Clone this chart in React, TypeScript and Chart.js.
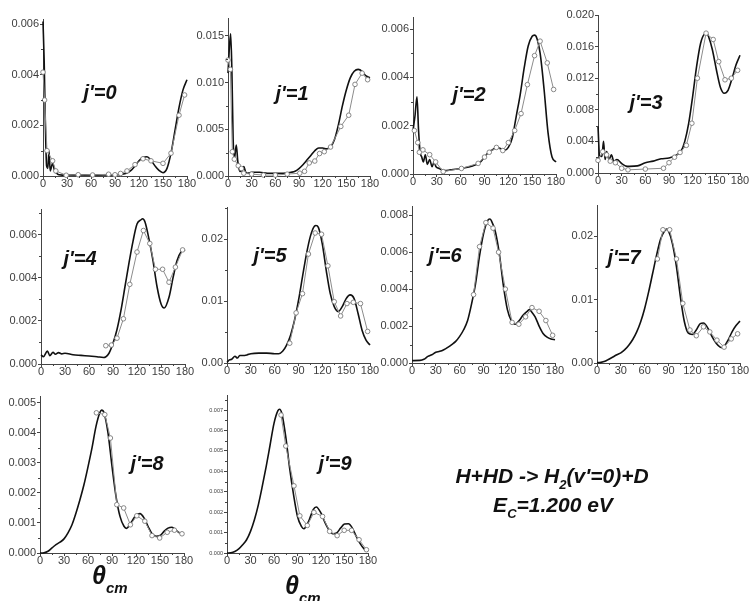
import React, { useEffect, useRef } from 'react';
import { Chart, registerables } from 'chart.js';

Chart.register(...registerables);
Chart.defaults.font.family = "'Liberation Sans', Arial, Helvetica, sans-serif";

// Differential cross sections, H + HD -> H2(v'=0, j') + D at Ec = 1.200 eV.
// Each series is a list of [theta_cm (deg), cross section] pairs.

// j' = 0
const j0Theory: [number, number][] = [
  [0, 0.0061], [1.5, 0.0045], [3, 0.002], [4.5, 0.0004], [6, 0.0003], [7.5, 0.001], [9, 0.0002],
  [12, 0.0005], [14.5, 0.0002], [17.5, 0.0001], [20, 0.00005], [30, 0.00003], [45, 0.00004],
  [60, 0.00003], [75, 0.00004], [90, 0.00004], [100, 0.00008], [105, 0.00012], [110, 0.00022],
  [115, 0.0004], [120, 0.0006], [125, 0.00074], [130, 0.00076], [135, 0.00062], [140, 0.0004],
  [145, 0.00022], [150, 0.00013], [155, 0.0003], [160, 0.0009], [165, 0.0018], [170, 0.0027],
  [175, 0.0034], [180, 0.0038],
];
const j0Measured: [number, number][] = [
  [0, 0.0041], [2, 0.003], [5, 0.001], [12, 0.0006], [16, 0.0002], [29, 0.00003], [44, 0.00005],
  [62, 0.00004], [82, 0.00007], [90, 0.00005], [97, 0.0001], [105, 0.0002], [115, 0.00045],
  [125, 0.00068], [135, 0.0006], [150, 0.0005], [160, 0.0009], [170, 0.0024], [177, 0.0032],
];

// j' = 1
const j1Theory: [number, number][] = [
  [0, 0.011], [2, 0.014], [3.4, 0.0152], [5, 0.011], [6.5, 0.004], [8, 0.0018], [10.5, 0.0033],
  [12.5, 0.0015], [15, 0.0005], [17.5, 0.0006], [20, 0.001], [22.5, 0.0004], [25, 0.0003],
  [30, 0.0004], [40, 0.0004], [50, 0.0003], [60, 0.0003], [70, 0.0003], [80, 0.0004], [85, 0.0005],
  [90, 0.0008], [95, 0.0012], [100, 0.0017], [105, 0.0022], [110, 0.0027], [115, 0.003],
  [120, 0.003], [125, 0.0029], [130, 0.0031], [135, 0.0039], [140, 0.0055], [145, 0.0075],
  [150, 0.0092], [155, 0.0105], [160, 0.0112], [165, 0.0114], [170, 0.0112], [175, 0.0107],
  [180, 0.0105],
];
const j1Measured: [number, number][] = [
  [0, 0.0124], [3, 0.0114], [5.5, 0.0026], [8, 0.0018], [13, 0.0011], [17, 0.0008], [20, 0.0003],
  [30, 0.0002], [45, 0.0001], [60, 0.0001], [75, 0.0002], [91, 0.0003], [97, 0.0005], [103, 0.0014],
  [110, 0.0016], [116, 0.0024], [122, 0.0026], [130, 0.0031], [143, 0.0053], [153, 0.0065],
  [161, 0.0098], [170, 0.011], [177, 0.0103],
];

// j' = 2
const j2Theory: [number, number][] = [
  [0, 0.0018], [2.5, 0.0024], [5, 0.0032], [7, 0.0018], [9, 0.0009], [11, 0.0007], [13, 0.0005],
  [15.5, 0.0008], [18, 0.0004], [21, 0.0006], [24, 0.0003], [26.5, 0.0005], [29, 0.0003],
  [33, 0.00023], [40, 0.00014], [47, 0.00017], [60, 0.00023], [75, 0.00033], [85, 0.0005],
  [90, 0.0007], [95, 0.0009], [100, 0.001], [105, 0.0011], [110, 0.00106], [115, 0.00097],
  [120, 0.0011], [125, 0.0015], [130, 0.0024], [135, 0.0033], [140, 0.0044], [145, 0.0053],
  [150, 0.0057], [153, 0.00575], [155, 0.0057], [160, 0.005], [165, 0.0035], [170, 0.0017],
  [175, 0.0007], [180, 0.0005],
];
const j2Measured: [number, number][] = [
  [1.7, 0.0018], [6, 0.0013], [8, 0.0009], [12.5, 0.001], [21, 0.0008], [28.5, 0.0005], [38, 0.0001],
  [61, 0.00023], [82, 0.00044], [90, 0.0007], [96, 0.0009], [105, 0.0011], [113, 0.00097],
  [120, 0.0013], [128, 0.0018], [136, 0.0025], [144, 0.0037], [153, 0.0049], [160, 0.0055],
  [169, 0.0046], [177, 0.0035],
];

// j' = 3
const j3Theory: [number, number][] = [
  [0, 0.0059], [2, 0.0022], [5, 0.0021], [7, 0.004], [9, 0.0017], [11, 0.0027], [14, 0.0017],
  [17, 0.0023], [20, 0.0015], [24, 0.0017], [30, 0.0012], [35, 0.0009], [40, 0.00084], [50, 0.0009],
  [60, 0.0013], [70, 0.0015], [80, 0.0018], [90, 0.0019], [100, 0.0023], [105, 0.0027], [110, 0.004],
  [115, 0.0063], [120, 0.0097], [125, 0.0135], [130, 0.0164], [135, 0.0176], [138, 0.0177],
  [140, 0.0173], [145, 0.0156], [150, 0.0131], [155, 0.0109], [160, 0.0101], [165, 0.0105],
  [170, 0.012], [175, 0.0137], [180, 0.0149],
];
const j3Measured: [number, number][] = [
  [0, 0.0016], [6, 0.0027], [11, 0.0023], [15.5, 0.0015], [22, 0.0013], [30, 0.0006], [38, 0.0004],
  [60, 0.0005], [83, 0.0006], [90, 0.0013], [97, 0.002], [104, 0.0026], [112, 0.0035], [119, 0.0063],
  [126, 0.012], [137, 0.0177], [146, 0.0169], [153, 0.0141], [161, 0.0118], [169, 0.012],
  [177, 0.013],
];

// j' = 4
const j4Theory: [number, number][] = [
  [0, 0.00042], [3, 0.00034], [8, 0.0006], [11, 0.00039], [15, 0.00054], [18, 0.00045],
  [22, 0.00053], [26, 0.00047], [30, 0.0005], [40, 0.00043], [50, 0.0004], [60, 0.00037],
  [70, 0.00034], [78, 0.0003], [85, 0.0005], [90, 0.00096], [95, 0.0016], [100, 0.0025],
  [105, 0.0036], [110, 0.0047], [115, 0.0057], [120, 0.0065], [125, 0.0067], [127, 0.00675],
  [130, 0.0066], [135, 0.0058], [140, 0.0048], [145, 0.0036], [150, 0.0028], [154, 0.0026],
  [160, 0.0031], [165, 0.004], [170, 0.0048], [175, 0.0052], [180, 0.0053],
];
const j4Measured: [number, number][] = [
  [81, 0.00085], [88, 0.00088], [95, 0.0012], [103, 0.0021], [111, 0.0037], [120, 0.0052],
  [128, 0.0062], [136, 0.0056], [143, 0.0044], [152, 0.0044], [160, 0.0038], [168, 0.0045],
  [177, 0.0053],
];

// j' = 5
const j5Theory: [number, number][] = [
  [0, 0.0001], [3, 0.0005], [6, 0.0006], [10, 0.0011], [13, 0.0008], [16, 0.0012], [20, 0.0012],
  [25, 0.0013], [30, 0.0015], [40, 0.0016], [50, 0.0016], [60, 0.0015], [65, 0.0015], [70, 0.0019],
  [75, 0.0029], [80, 0.0045], [85, 0.0069], [90, 0.0101], [95, 0.0139], [100, 0.0176], [105, 0.0205],
  [110, 0.0221], [112, 0.0222], [115, 0.0219], [120, 0.0192], [125, 0.0149], [130, 0.0112],
  [135, 0.0091], [140, 0.0083], [145, 0.0091], [150, 0.0104], [155, 0.011], [160, 0.0104],
  [165, 0.008], [170, 0.0053], [175, 0.0037], [180, 0.0029],
];
const j5Measured: [number, number][] = [
  [79, 0.0032], [87, 0.0081], [95, 0.0112], [102.5, 0.0176], [111, 0.021], [119, 0.0208],
  [127, 0.0157], [135, 0.0099], [143, 0.0076], [151, 0.0096], [159, 0.0098], [168, 0.0096],
  [177, 0.0051],
];

// j' = 6
const j6Theory: [number, number][] = [
  [0, 0.00013], [10, 0.00014], [15, 0.0002], [20, 0.00036], [25, 0.00045], [30, 0.00058],
  [35, 0.00063], [40, 0.00072], [45, 0.00085], [50, 0.001], [55, 0.00117], [60, 0.00144],
  [65, 0.0018], [70, 0.0023], [75, 0.0032], [80, 0.0043], [85, 0.0058], [90, 0.007], [95, 0.0077],
  [98, 0.0078], [100, 0.0077], [105, 0.0071], [110, 0.0059], [115, 0.0042], [120, 0.0029],
  [125, 0.0023], [130, 0.0021], [135, 0.0023], [140, 0.0026], [145, 0.0028], [148, 0.0029],
  [150, 0.0028], [155, 0.0025], [160, 0.002], [165, 0.0016], [170, 0.0014], [175, 0.0013],
  [180, 0.00126],
];
const j6Measured: [number, number][] = [
  [77.5, 0.0037], [85, 0.0063], [93, 0.0076], [102, 0.0073], [109, 0.006], [117.5, 0.004],
  [126, 0.0022], [134.5, 0.0021], [143, 0.0025], [151, 0.003], [160, 0.0028], [168.5, 0.0023],
  [177, 0.0015],
];

// j' = 7
const j7Theory: [number, number][] = [
  [0, 0.00005], [5, 0.0001], [10, 0.00026], [15, 0.0006], [20, 0.00095], [25, 0.0013], [30, 0.0016],
  [35, 0.0021], [40, 0.0028], [45, 0.0037], [50, 0.0049], [55, 0.0065], [60, 0.0086], [65, 0.0112],
  [70, 0.0141], [75, 0.017], [80, 0.0195], [85, 0.0208], [88, 0.0211], [90, 0.0208], [95, 0.0188],
  [100, 0.0152], [105, 0.0104], [110, 0.0065], [115, 0.0047], [120, 0.0045], [125, 0.0052],
  [130, 0.0062], [134, 0.0063], [140, 0.0054], [145, 0.0041], [150, 0.0031], [155, 0.0025],
  [158, 0.0024], [160, 0.0026], [165, 0.0036], [170, 0.0049], [175, 0.0059], [180, 0.0066],
];
const j7Measured: [number, number][] = [
  [76, 0.0164], [83, 0.021], [91.5, 0.021], [100, 0.0164], [108, 0.0094], [117, 0.0052],
  [125, 0.0043], [134, 0.0057], [142, 0.0049], [151, 0.0036], [160, 0.0025], [169, 0.0038],
  [177, 0.0046],
];

// j' = 8
const j8Theory: [number, number][] = [
  [0, 0], [5, 0.00001], [10, 0.00006], [15, 0.00017], [20, 0.00028], [25, 0.00036], [30, 0.00047],
  [35, 0.00067], [40, 0.00094], [45, 0.00133], [50, 0.00178], [55, 0.00228], [60, 0.00287],
  [65, 0.0035], [70, 0.00422], [75, 0.00469], [77, 0.00476], [80, 0.00467], [85, 0.004],
  [90, 0.00289], [95, 0.00189], [100, 0.00122], [105, 0.00089], [108, 0.00082], [110, 0.00086],
  [115, 0.00106], [120, 0.00126], [125, 0.00131], [130, 0.00117], [135, 0.00089], [140, 0.00064],
  [145, 0.00056], [150, 0.00058], [155, 0.00072], [160, 0.00083], [165, 0.00086], [170, 0.00076],
  [175, 0.00067], [180, 0.00067],
];
const j8Measured: [number, number][] = [
  [70.5, 0.00467], [81, 0.00461], [88, 0.00383], [96, 0.00161], [104.6, 0.0015], [113, 0.00094],
  [121, 0.00124], [131, 0.00106], [140, 0.00058], [149.6, 0.0005], [159, 0.00069], [168, 0.00076],
  [177.5, 0.00064],
];

// j' = 9
const j9Theory: [number, number][] = [
  [0, 0], [5, 0.00001], [10, 0.00007], [15, 0.0002], [20, 0.0004], [25, 0.00065], [30, 0.00106],
  [35, 0.00163], [40, 0.00236], [45, 0.00326], [50, 0.00423], [55, 0.00529], [60, 0.00635],
  [65, 0.00697], [67, 0.00704], [70, 0.00684], [75, 0.0057], [80, 0.00415], [85, 0.00285],
  [90, 0.00179], [95, 0.0013], [98, 0.00119], [100, 0.00125], [105, 0.00163], [110, 0.00212],
  [114, 0.00225], [120, 0.00195], [125, 0.0015], [130, 0.00114], [135, 0.00094], [140, 0.00098],
  [145, 0.00122], [150, 0.00142], [155, 0.00143], [160, 0.00122], [165, 0.00081], [170, 0.00046],
  [175, 0.0002], [180, 0.00008],
];
const j9Measured: [number, number][] = [
  [69, 0.00676], [75, 0.00524], [85.5, 0.00329], [93, 0.00182], [102.5, 0.00135], [111, 0.00199],
  [122, 0.00179], [131, 0.00106], [140.6, 0.00085], [149.6, 0.00111], [159, 0.00111],
  [168.6, 0.00065], [178, 0.00016],
];

// Axis ticks
const THETA_TICKS = [0, 30, 60, 90, 120, 150, 180];
const yTicks0 = [0, 0.002, 0.004, 0.006];
const yTicks1 = [0, 0.005, 0.01, 0.015];
const yTicks2 = [0, 0.002, 0.004, 0.006];
const yTicks3 = [0, 0.004, 0.008, 0.012, 0.016, 0.02];
const yTicks4 = [0, 0.002, 0.004, 0.006];
const yTicks5 = [0, 0.01, 0.02];
const yTicks6 = [0, 0.002, 0.004, 0.006, 0.008];
const yTicks7 = [0, 0.01, 0.02];
const yTicks8 = [0, 0.001, 0.002, 0.003, 0.004, 0.005];
const yTicks9 = [0, 0.001, 0.002, 0.003, 0.004, 0.005, 0.006, 0.007];
const yMaxima = [0.0062, 0.0169, 0.0065, 0.02, 0.0072, 0.0252, 0.0085, 0.0249, 0.00523, 0.00774];
const yDecimals = [3, 3, 3, 3, 3, 2, 3, 2, 3, 3];
const PANEL_NAMES = ["j'=0", "j'=1", "j'=2", "j'=3", "j'=4", "j'=5", "j'=6", "j'=7", "j'=8", "j'=9"];

const THEORY = [j0Theory, j1Theory, j2Theory, j3Theory, j4Theory, j5Theory, j6Theory, j7Theory, j8Theory, j9Theory];
const MEASURED = [j0Measured, j1Measured, j2Measured, j3Measured, j4Measured, j5Measured, j6Measured, j7Measured, j8Measured, j9Measured];
const Y_TICKS = [yTicks0, yTicks1, yTicks2, yTicks3, yTicks4, yTicks5, yTicks6, yTicks7, yTicks8, yTicks9];

// Layout: plot rectangles [left, top, right, bottom] in page pixels
const PLOT_BOXES = [
  [43, 19, 187, 176], [228, 18, 370, 176], [413, 17, 556, 174], [598, 15, 740, 173],
  [41, 209, 185, 364], [227, 207, 370, 363], [412, 206, 555, 363], [597, 205, 740, 363],
  [40, 396, 184, 553], [227, 395, 368, 553],
];
// Panel label centres
const LABEL_POS = [
  [100, 92], [292, 93], [469, 94], [646, 102],
  [80, 258], [270, 255], [445, 255], [624, 257],
  [147, 463], [335, 463],
];
const Y_FONT = [11, 11, 11, 11, 11, 11, 11, 11, 11, 5.5];

const AXW = 50;
const PT = 12;
const PR = 20;
const XH = 22;
const AXIS_COLOR = '#444';
const LABEL_COLOR = '#3c3c3c';

const minorTickPlugin = {
  id: 'minorTicks',
  afterDraw(chart: any) {
    const ctx = chart.ctx;
    const area = chart.chartArea;
    ctx.save();
    ctx.strokeStyle = AXIS_COLOR;
    ctx.lineWidth = 1;
    for (const id of ['x', 'y']) {
      const s = chart.scales[id];
      const vals = s.ticks.map((t: any) => t.value);
      const mids: number[] = [];
      for (let i = 0; i < vals.length - 1; i++) mids.push((vals[i] + vals[i + 1]) / 2);
      const step = vals[1] - vals[0];
      const extra = vals[vals.length - 1] + step / 2;
      if (extra <= s.max * 1.0001) mids.push(extra);
      for (const v of mids) {
        const p = Math.round(s.getPixelForValue(v)) + 0.5;
        ctx.beginPath();
        if (id === 'x') {
          const y0 = Math.round(area.bottom);
          ctx.moveTo(p, y0);
          ctx.lineTo(p, y0 + 2);
        } else {
          const x0 = Math.round(area.left);
          ctx.moveTo(x0, p);
          ctx.lineTo(x0 - 2, p);
        }
        ctx.stroke();
      }
    }
    ctx.restore();
  },
};

function Panel({ idx }: { idx: number }) {
  const ref = useRef<HTMLCanvasElement>(null);
  const [l, t, r, b] = PLOT_BOXES[idx];
  const w = AXW + (r - l) + PR;
  const h = PT + (b - t) + XH;

  useEffect(() => {
    const yt = Y_TICKS[idx];
    const dec = yDecimals[idx];
    const chart = new Chart(ref.current as HTMLCanvasElement, {
      type: 'line',
      data: {
        datasets: [
          {
            data: MEASURED[idx].map(([x, y]) => ({ x, y })),
            borderColor: '#8c8c8c',
            borderWidth: 1,
            pointRadius: 2.3,
            pointBackgroundColor: '#ffffff',
            pointBorderColor: '#7c7c7c',
            pointBorderWidth: 0.9,
            tension: 0,
            clip: false as any,
          },
          {
            data: THEORY[idx].map(([x, y]) => ({ x, y })),
            borderColor: '#111111',
            borderWidth: 1.6,
            pointRadius: 0,
            cubicInterpolationMode: 'monotone',
            clip: false as any,
          },
        ],
      },
      options: {
        responsive: false,
        animation: false,
        events: [],
        layout: { padding: { left: 0, top: PT, right: PR, bottom: 0 } },
        plugins: { legend: { display: false }, tooltip: { enabled: false } },
        scales: {
          x: {
            type: 'linear',
            min: 0,
            max: 180,
            afterBuildTicks: (s: any) => {
              s.ticks = THETA_TICKS.map((v) => ({ value: v }));
            },
            afterFit: (s: any) => {
              s.height = XH;
              s.paddingLeft = 0;
              s.paddingRight = 0;
            },
            grid: { drawOnChartArea: false, tickLength: 3, color: AXIS_COLOR, lineWidth: 1 },
            border: { color: AXIS_COLOR, width: 1 },
            ticks: {
              color: LABEL_COLOR,
              font: { size: 11 },
              padding: -2,
              maxRotation: 0,
              autoSkip: false,
              callback: (v: any) => String(v),
            },
          },
          y: {
            type: 'linear',
            min: 0,
            max: yMaxima[idx],
            afterBuildTicks: (s: any) => {
              s.ticks = yt.map((v) => ({ value: v }));
            },
            afterFit: (s: any) => {
              s.width = AXW;
              s.paddingTop = 0;
              s.paddingBottom = 0;
            },
            grid: { drawOnChartArea: false, tickLength: 3, color: AXIS_COLOR, lineWidth: 1 },
            border: { color: AXIS_COLOR, width: 1 },
            ticks: {
              color: LABEL_COLOR,
              font: { size: Y_FONT[idx] },
              padding: 1,
              autoSkip: false,
              callback: (v: any) => Number(v).toFixed(dec),
            },
          },
        },
      } as any,
      plugins: [minorTickPlugin],
    });
    return () => chart.destroy();
  }, [idx]);

  return (
    <div style={{ position: 'absolute', left: l - AXW, top: t - PT, width: w, height: h }}>
      <canvas ref={ref} width={w} height={h} style={{ display: 'block' }} />
    </div>
  );
}

const boldItalic: React.CSSProperties = {
  position: 'absolute',
  fontFamily: "'Liberation Sans', Arial, Helvetica, sans-serif",
  fontWeight: 'bold',
  fontStyle: 'italic',
  color: '#111',
  whiteSpace: 'nowrap',
};

export default function App() {
  return (
    <div
      style={{
        position: 'absolute',
        left: 0,
        top: 0,
        width: 750,
        height: 601,
        background: '#fff',
        overflow: 'hidden',
      }}
    >
      {PLOT_BOXES.map((_, i) => (
        <Panel key={i} idx={i} />
      ))}
      {PANEL_NAMES.map((name, i) => (
        <div
          key={name}
          style={{
            ...boldItalic,
            left: LABEL_POS[i][0],
            top: LABEL_POS[i][1] - 10,
            fontSize: 20,
            lineHeight: '20px',
            transform: 'translateX(-50%)',
          }}
        >
          {name}
        </div>
      ))}
      <div style={{ ...boldItalic, left: 552, top: 465, fontSize: 21, lineHeight: '21px', transform: 'translateX(-50%)' }}>
        H+HD -&gt; H<span style={{ fontSize: '0.62em', position: 'relative', top: 6 }}>2</span>(v'=0)+D
      </div>
      <div style={{ ...boldItalic, left: 553, top: 494, fontSize: 21, lineHeight: '21px', transform: 'translateX(-50%)' }}>
        E<span style={{ fontSize: '0.62em', position: 'relative', top: 6 }}>C</span>=1.200 eV
      </div>
      <div style={{ ...boldItalic, left: 92, top: 563, fontSize: 25, lineHeight: '25px' }}>
        θ<span style={{ fontSize: '0.6em', position: 'relative', top: 9 }}>cm</span>
      </div>
      <div style={{ ...boldItalic, left: 285, top: 573, fontSize: 25, lineHeight: '25px' }}>
        θ<span style={{ fontSize: '0.6em', position: 'relative', top: 9 }}>cm</span>
      </div>
    </div>
  );
}
